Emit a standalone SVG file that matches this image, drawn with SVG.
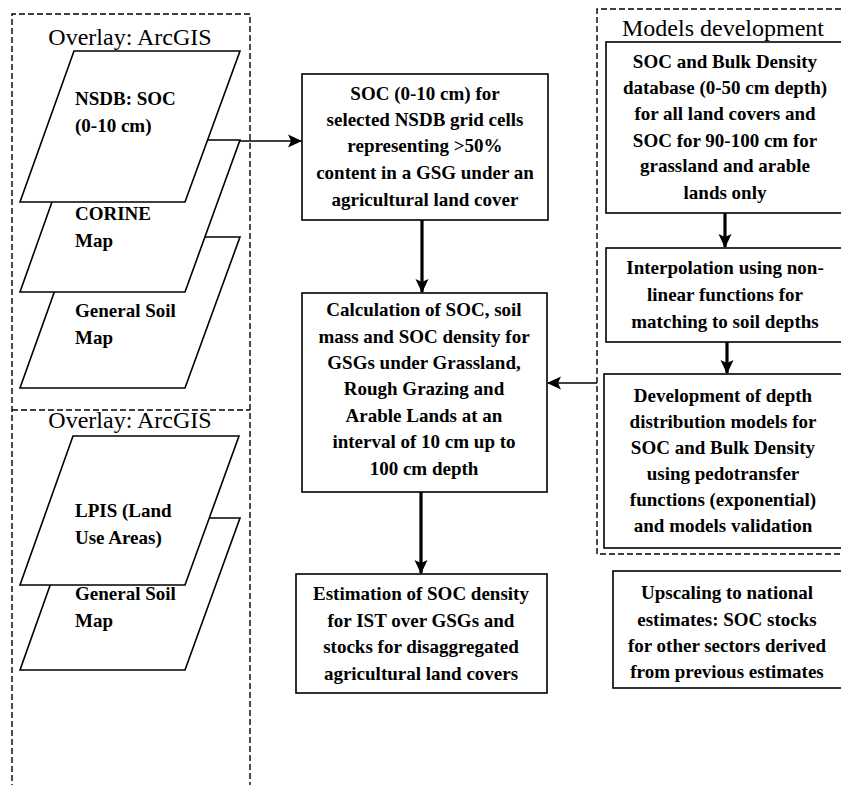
<svg xmlns="http://www.w3.org/2000/svg" width="841" height="785" viewBox="0 0 841 785">
<defs>
<style>
.bg{fill:#ffffff}
.dash{fill:none;stroke:#000;stroke-width:1.4;stroke-dasharray:6 3}
.box{fill:#ffffff;stroke:#000;stroke-width:1.6}
.para{fill:#ffffff;stroke:#000;stroke-width:1.6}
.title{font-family:"Liberation Serif","Times New Roman",serif;font-size:24px;fill:#000;text-anchor:middle}
.t{font-family:"Liberation Serif","Times New Roman",serif;font-size:19px;font-weight:bold;fill:#000;text-anchor:middle}
.tl{font-family:"Liberation Serif","Times New Roman",serif;font-size:19px;font-weight:bold;fill:#000}
.thin{fill:none;stroke:#000;stroke-width:1.5}
.thick{fill:none;stroke:#000;stroke-width:3.2}
</style>
<marker id="ah" viewBox="0 0 14 14" refX="13" refY="7" markerWidth="14" markerHeight="14" markerUnits="userSpaceOnUse" orient="auto">
<path d="M0,0.5 L14,7 L0,13.5 L3,7 z" fill="#000"/>
</marker>
</defs>
<rect class="bg" x="0" y="0" width="841" height="785"/>

<g id="left-overlay">
<path class="dash" d="M12,790 V14 H250 V790"/>
<path class="dash" d="M12,410 H250"/>
<text class="title" x="130" y="45">Overlay: ArcGIS</text>
<text class="title" x="130" y="428">Overlay: ArcGIS</text>
</g>

<g id="general-soil-map-1">
<polygon class="para" points="74,237 240,237 185,388 20,388"/>
<text class="tl" x="75" y="317">General Soil</text>
<text class="tl" x="75" y="344">Map</text>
</g>
<g id="corine-map">
<polygon class="para" points="74,140 240,140 185,292 20,292"/>
<text class="tl" x="75" y="220">CORINE</text>
<text class="tl" x="75" y="247">Map</text>
</g>
<g id="nsdb-soc">
<polygon class="para" points="74,51 240,51 185,202 20,202"/>
<text class="tl" x="75" y="105">NSDB: SOC</text>
<text class="tl" x="75" y="132">(0-10 cm)</text>
</g>

<g id="general-soil-map-2">
<polygon class="para" points="74,518 240,518 185,670 20,670"/>
<text class="tl" x="75" y="600">General Soil</text>
<text class="tl" x="75" y="627">Map</text>
</g>
<g id="lpis">
<polygon class="para" points="73,436 239,436 185,585 20,585"/>
<text class="tl" x="75" y="517">LPIS (Land</text>
<text class="tl" x="75" y="544">Use Areas)</text>
</g>

<g id="models-development">
<path class="dash" d="M850,9 H597 V554 H850"/>
<text class="title" x="723" y="36">Models development</text>
</g>

<g id="box-soc-selected">
<rect class="box" x="302" y="74" width="246" height="146"/>
<text class="t" x="425" y="100">SOC (0-10 cm) for</text>
<text class="t" x="425" y="126">selected NSDB grid cells</text>
<text class="t" x="425" y="152">representing &gt;50%</text>
<text class="t" x="425" y="179">content in a GSG under an</text>
<text class="t" x="425" y="206">agricultural land cover</text>
</g>

<g id="box-calculation">
<rect class="box" x="302" y="293" width="245" height="199"/>
<text class="t" x="424" y="316">Calculation of SOC, soil</text>
<text class="t" x="424" y="343">mass and SOC density for</text>
<text class="t" x="424" y="369">GSGs under Grassland,</text>
<text class="t" x="424" y="395">Rough Grazing and</text>
<text class="t" x="424" y="422">Arable Lands at an</text>
<text class="t" x="424" y="448">interval of 10 cm up to</text>
<text class="t" x="424" y="475">100 cm depth</text>
</g>

<g id="box-estimation">
<rect class="box" x="296" y="574" width="251" height="119"/>
<text class="t" x="421" y="600">Estimation of SOC density</text>
<text class="t" x="421" y="627">for IST over GSGs and</text>
<text class="t" x="421" y="653">stocks for disaggregated</text>
<text class="t" x="421" y="680">agricultural land covers</text>
</g>

<g id="box-database">
<rect class="box" x="606" y="42" width="250" height="171"/>
<text class="t" x="725" y="68">SOC and Bulk Density</text>
<text class="t" x="725" y="94">database (0-50 cm depth)</text>
<text class="t" x="725" y="120">for all land covers and</text>
<text class="t" x="725" y="147">SOC for 90-100 cm for</text>
<text class="t" x="725" y="172">grassland and arable</text>
<text class="t" x="725" y="199">lands only</text>
</g>

<g id="box-interpolation">
<rect class="box" x="606" y="248" width="250" height="94"/>
<text class="t" x="725" y="274">Interpolation using non-</text>
<text class="t" x="725" y="301">linear functions for</text>
<text class="t" x="725" y="328">matching to soil depths</text>
</g>

<g id="box-depth-models">
<rect class="box" x="604" y="374" width="252" height="174"/>
<text class="t" x="723" y="402">Development of depth</text>
<text class="t" x="723" y="428">distribution models for</text>
<text class="t" x="723" y="454">SOC and Bulk Density</text>
<text class="t" x="723" y="480">using pedotransfer</text>
<text class="t" x="723" y="506">functions (exponential)</text>
<text class="t" x="723" y="532">and models validation</text>
</g>

<g id="box-upscaling">
<rect class="box" x="613" y="571" width="243" height="117"/>
<text class="t" x="727" y="599">Upscaling to national</text>
<text class="t" x="727" y="626">estimates: SOC stocks</text>
<text class="t" x="727" y="652">for other sectors derived</text>
<text class="t" x="727" y="678">from previous estimates</text>
</g>

<g id="connectors">
<line class="thin" x1="240" y1="141" x2="301" y2="141" marker-end="url(#ah)"/>
<line class="thin" x1="597" y1="383" x2="548" y2="383" marker-end="url(#ah)"/>
<line class="thick" x1="422" y1="220" x2="422" y2="292" marker-end="url(#ah)"/>
<line class="thick" x1="421" y1="492" x2="421" y2="573" marker-end="url(#ah)"/>
<line class="thick" x1="725" y1="213" x2="725" y2="247" marker-end="url(#ah)"/>
<line class="thick" x1="727" y1="342" x2="727" y2="373" marker-end="url(#ah)"/>
</g>
</svg>
